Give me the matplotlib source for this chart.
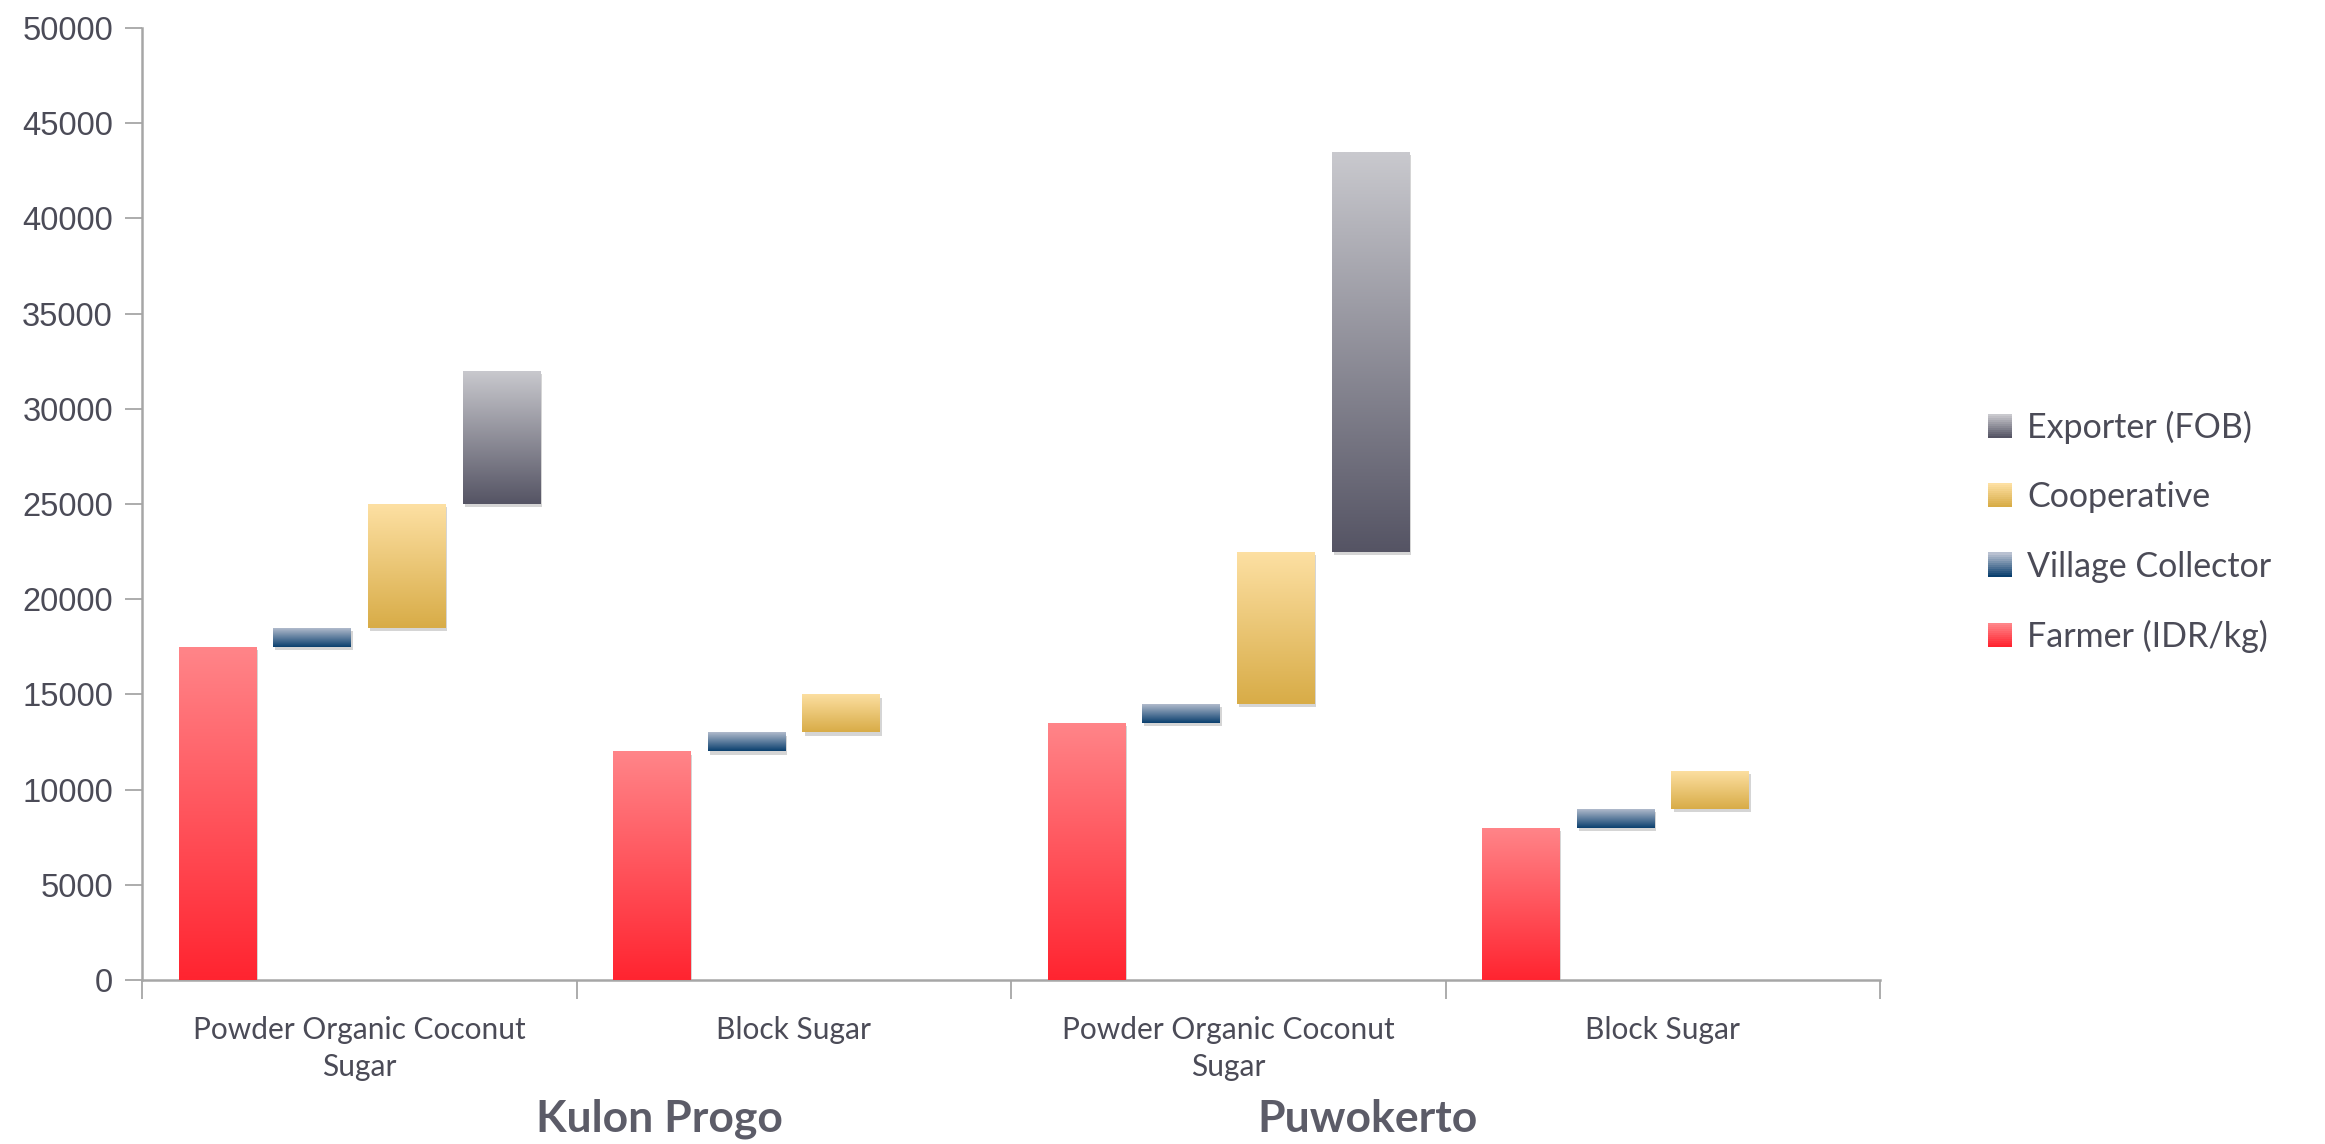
import numpy as np
import matplotlib
matplotlib.use("Agg")
import matplotlib.pyplot as plt
import matplotlib.patheffects as pe
from matplotlib.colors import LinearSegmentedColormap
from matplotlib.legend_handler import HandlerBase
from matplotlib.patches import Rectangle

# price levels along the chain (IDR/kg), cumulative
products = ["Powder Organic Coconut\nSugar", "Block Sugar",
            "Powder Organic Coconut\nSugar", "Block Sugar"]
regions = ["Kulon Progo", "Puwokerto"]
farmer = [17500, 12000, 13500, 8000]
collector = [18500, 13000, 14500, 9000]
cooperative = [25000, 15000, 22500, 11000]
exporter = [32000, np.nan, 43500, np.nan]

series_names = ["Farmer (IDR/kg)", "Village Collector", "Cooperative", "Exporter (FOB)"]
# (top colour, bottom colour) of each gradient
grad_colors = [("#ff8589", "#ff2430"),
               ("#b9c1d1", "#0a3f6e"),
               ("#fde0a3", "#d8ac47"),
               ("#c9c9ce", "#555464")]

TEXT = "#4b4b57"
AXIS = "#a6a6a6"


class GradKey:
    def __init__(self, top, bottom):
        self.top = top
        self.bottom = bottom


class GradHandler(HandlerBase):
    def create_artists(self, legend, orig_handle, xdescent, ydescent,
                       width, height, fontsize, trans):
        cmap = LinearSegmentedColormap.from_list("", [orig_handle.bottom, orig_handle.top])
        n = 12
        side = width
        y0 = -ydescent + (height - side) / 2
        arts = []
        for k in range(n):
            r = Rectangle((-xdescent, y0 + side * k / n), side, side / n + 0.3,
                          facecolor=cmap(k / (n - 1)), edgecolor="none", transform=trans)
            arts.append(r)
        return arts


def gradient_fill(ax, patch, top, bottom):
    x, y = patch.get_x(), patch.get_y()
    w, h = patch.get_width(), patch.get_height()
    cmap = LinearSegmentedColormap.from_list("", [bottom, top])
    grad = np.linspace(0, 1, 256).reshape(-1, 1)
    im = ax.imshow(grad, cmap=cmap, extent=[x, x + w, y, y + h], origin="lower",
                   aspect="auto", zorder=3, interpolation="bilinear")
    im.set_clip_path(patch)


fig = plt.figure(figsize=(23.25, 11.44), dpi=100)
ax = fig.add_axes([0.0611, 0.1434, 0.8086 - 0.0611, 0.9755 - 0.1434])

x = np.arange(len(products)) + 0.5
width = 0.178
step = 0.218
offsets = (np.arange(4) - 1.5) * step

lows = [np.zeros(4), np.array(farmer), np.array(collector), np.array(cooperative)]
highs = [np.array(farmer), np.array(collector), np.array(cooperative), np.array(exporter)]

shadow = [pe.SimplePatchShadow(offset=(1.5, -2.5), shadow_rgbFace="#888888", alpha=0.35),
          pe.Normal()]

for s in range(4):
    bars = ax.bar(x + offsets[s], highs[s] - lows[s], width, bottom=lows[s],
                  color=grad_colors[s][1], edgecolor="none", zorder=2)
    for b in bars:
        if np.isnan(b.get_height()):
            continue
        b.set_path_effects(shadow)
        gradient_fill(ax, b, *grad_colors[s])

ax.set_xlim(0, 4)
ax.set_ylim(0, 50000)
ax.set_yticks(np.arange(0, 50001, 5000))
ax.set_yticklabels([str(v) for v in range(0, 50001, 5000)],
                   fontfamily="Liberation Sans", fontsize=23.5, color=TEXT)

ax.set_xticks(np.arange(0, 5))
ax.set_xticklabels([])
ax.set_xticks(x, minor=True)
ax.set_xticklabels(products, minor=True, fontfamily="Lato", fontsize=21.5,
                   color=TEXT, linespacing=1.4)
ax.tick_params(axis="x", which="major", length=14, width=1.3, color=AXIS, direction="out")
ax.tick_params(axis="x", which="minor", length=0, pad=26)
ax.tick_params(axis="y", length=12, width=1.3, color=AXIS, pad=9)

for sp in ["top", "right"]:
    ax.spines[sp].set_visible(False)
for sp in ["left", "bottom"]:
    ax.spines[sp].set_color(AXIS)
    ax.spines[sp].set_linewidth(1.8)

# group labels sit slightly inward of the group boundaries, as in the source
for xpos, r in zip([1.19, 2.82], regions):
    ax.text(xpos, -7300, r, ha="center", va="center", fontfamily="Lato",
            fontweight="bold", fontsize=32, color="#5c5c68", clip_on=False)

keys = [GradKey(*grad_colors[s]) for s in range(4)][::-1]
leg = fig.legend(keys, series_names[::-1], handler_map={GradKey: GradHandler()},
                 loc="center left", bbox_to_anchor=(0.842, 0.535), frameon=False,
                 prop={"family": "Lato", "size": 24.5}, handlelength=0.7,
                 handleheight=0.7, handletextpad=0.45, labelspacing=1.1)
for t in leg.get_texts():
    t.set_color(TEXT)

fig.savefig("out.png", dpi=100, facecolor="white")
